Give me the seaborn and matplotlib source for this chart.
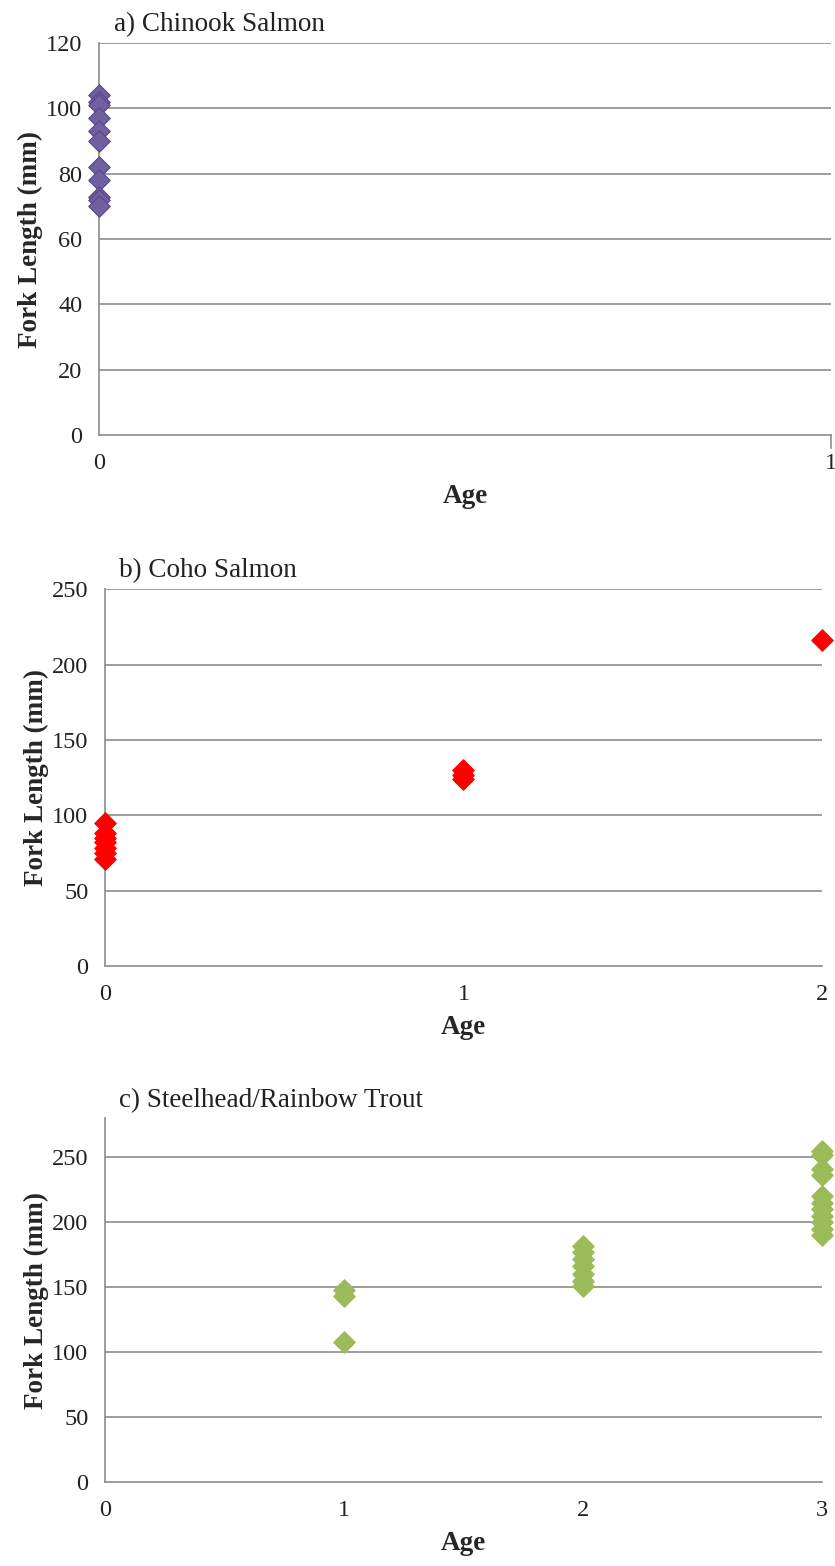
"""Fork length at age for three salmonid species, three stacked panels."""
import matplotlib
matplotlib.use("Agg")
import matplotlib.pyplot as plt
import pandas as pd
import seaborn as sns

sns.set_theme(style="white")
plt.rcParams["font.family"] = ["Liberation Serif", "DejaVu Serif"]

# a) Chinook Salmon
chinook_age = [0, 0, 0, 0, 0, 0, 0, 0, 0, 0, 0]
chinook_len = [104, 102, 101, 97, 93, 90, 82, 78, 73, 72, 70]

# b) Coho Salmon
coho_age = [0, 0, 0, 0, 0, 0, 0, 1, 1, 1, 2]
coho_len = [95, 88, 85, 82, 78, 75, 71, 130, 127, 124, 216]

# c) Steelhead/Rainbow Trout
steel_age = [1, 1, 1,
             2, 2, 2, 2, 2, 2, 2,
             3, 3, 3, 3, 3, 3, 3, 3, 3, 3, 3]
steel_len = [148, 143, 108,
             182, 177, 172, 166, 160, 155, 151,
             255, 252, 241, 236, 220, 215, 210, 205, 200, 195, 190]

PANELS = [
    ("a) Chinook Salmon", chinook_age, chinook_len, "#7060A0", "#574690",
     [0.1186, 0.7222, 0.8766, 0.2503], (0, 1), (0, 120), 20),
    ("b) Coho Salmon", coho_age, coho_len, "#FF0000", "#FF0000",
     [0.1257, 0.3831, 0.8587, 0.2407], (0, 2), (0, 250), 50),
    ("c) Steelhead/Rainbow Trout", steel_age, steel_len, "#9BBB59", "#9BBB59",
     [0.1257, 0.0536, 0.8587, 0.2324], (0, 3), (0, 280), 50),
]

GRID = "#8C8C8C"

fig = plt.figure(figsize=(8.35, 15.66), dpi=100)

for title, ages, lens, face, edge, rect, xlim, ylim, step in PANELS:
    ax = fig.add_axes(rect)
    df = pd.DataFrame({"Age": ages, "Fork Length (mm)": lens})
    sns.scatterplot(data=df, x="Age", y="Fork Length (mm)", ax=ax,
                    marker="D", s=120, color=face, edgecolor=edge,
                    linewidth=0.8, zorder=3, clip_on=False)
    ax.set_xlim(*xlim)
    ax.set_ylim(*ylim)
    ax.set_xticks(range(xlim[0], xlim[1] + 1))
    yt = list(range(0, ylim[1] + 1, step))
    ax.set_yticks(yt)
    for v in yt[1:]:
        ax.axhline(v, color=GRID, lw=1.2, zorder=1)
    for side in ["top", "right"]:
        ax.spines[side].set_visible(False)
    for side in ["left", "bottom"]:
        ax.spines[side].set_color(GRID)
        ax.spines[side].set_linewidth(1.2)
    if title.startswith("a)"):
        ax.spines["right"].set_visible(True)
        ax.spines["right"].set_color(GRID)
        ax.spines["right"].set_linewidth(1.2)
        ax.spines["right"].set_bounds(-4, 0)
    ax.tick_params(axis="both", direction="out", length=6, width=1.2,
                   color=GRID, labelsize=17.5, labelcolor="#222222")
    ax.tick_params(axis="y", pad=6)
    ax.tick_params(axis="x", pad=7)
    ax.set_xlabel("Age", fontsize=19.5, fontweight="bold", labelpad=7)
    ax.set_ylabel("Fork Length (mm)", fontsize=19.5, fontweight="bold", labelpad=2)
    ax.text(0.02, 1.015, title, transform=ax.transAxes, fontsize=19.5,
            ha="left", va="bottom", color="#222222")

fig.savefig("out.png", dpi=100)
plt.close(fig)
